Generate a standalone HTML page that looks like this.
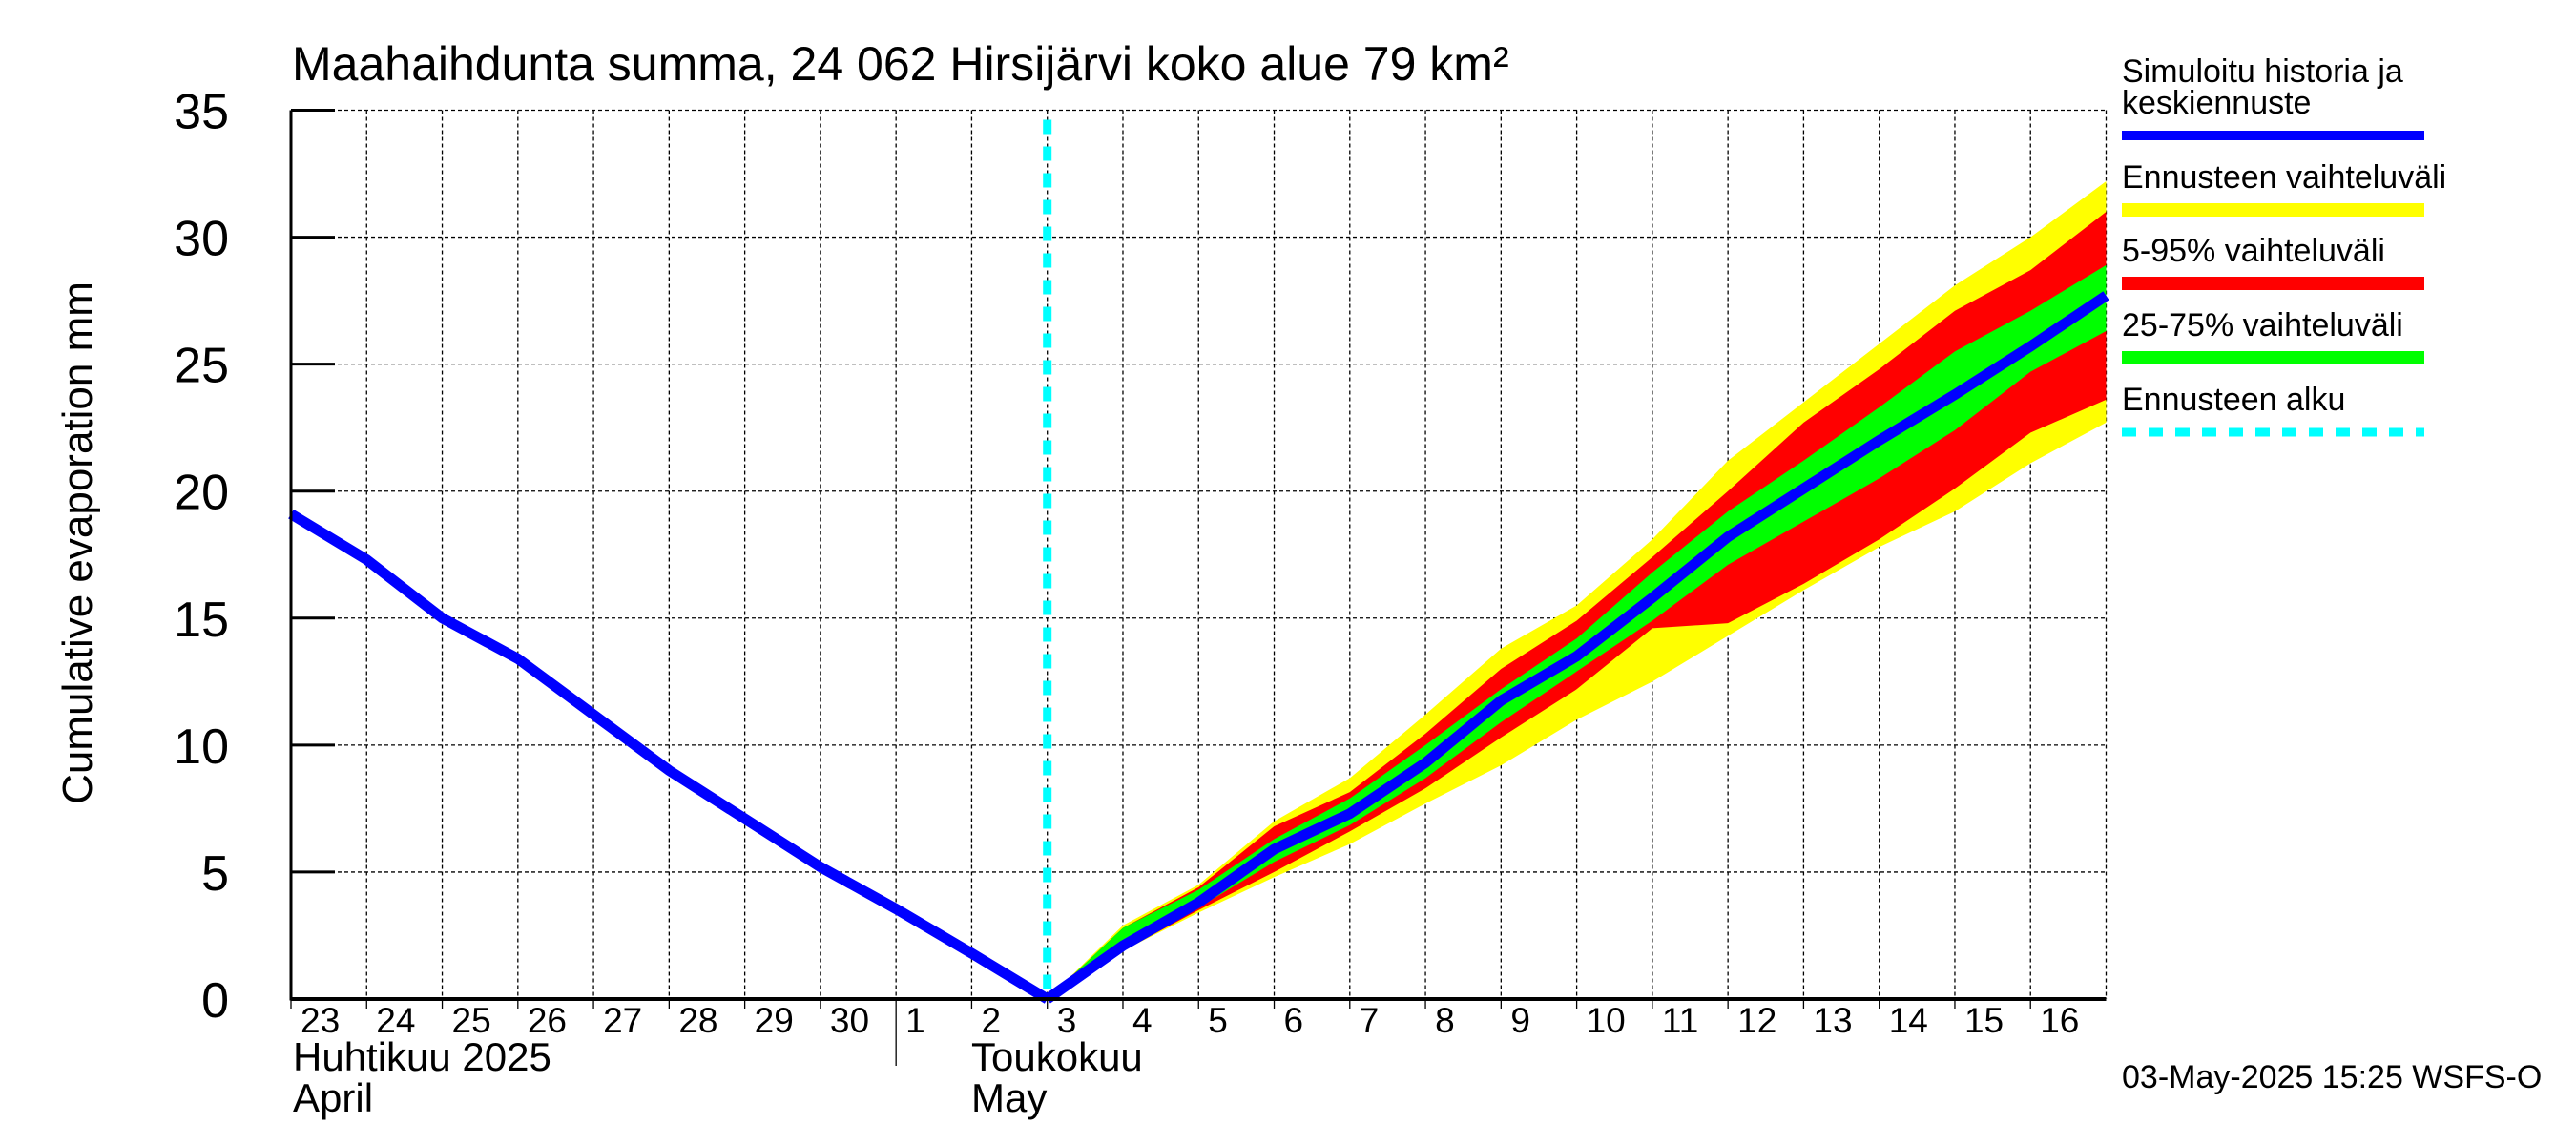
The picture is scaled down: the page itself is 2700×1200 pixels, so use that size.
<!DOCTYPE html>
<html><head><meta charset="utf-8">
<style>
html,body{margin:0;padding:0;background:#fff;}
svg{display:block;font-family:"Liberation Sans",sans-serif;}
</style></head>
<body>
<svg id="chart" xmlns="http://www.w3.org/2000/svg" width="2700" height="1200" viewBox="0 0 2700 1200">
<rect x="0" y="0" width="2700" height="1200" fill="#fff"/>
<text x="306" y="84" font-size="50">Maahaihdunta summa, 24 062 Hirsijärvi koko alue 79 km²</text>
<text transform="translate(96,569) rotate(-90)" text-anchor="middle" font-size="44">Cumulative evaporation   mm</text>
<g id="grid"></g>
<g id="bands"></g>
<g id="lines"></g>
<g id="axes"></g>
<text x="307" y="1122" font-size="42">Huhtikuu  2025</text>
<text x="307" y="1165" font-size="42">April</text>
<text x="1018" y="1122" font-size="42">Toukokuu</text>
<text x="1018" y="1165" font-size="42">May</text>
<g font-size="34">
<text x="2224" y="86">Simuloitu historia ja</text>
<text x="2224" y="119">keskiennuste</text>
<rect x="2224" y="137" width="317" height="10" fill="#0000ff"/>
<text x="2224" y="197">Ennusteen vaihteluväli</text>
<rect x="2224" y="213" width="317" height="14" fill="#ffff00"/>
<text x="2224" y="274">5-95% vaihteluväli</text>
<rect x="2224" y="290" width="317" height="14" fill="#ff0000"/>
<text x="2224" y="352">25-75% vaihteluväli</text>
<rect x="2224" y="368" width="317" height="14" fill="#00ff00"/>
<text x="2224" y="430">Ennusteen alku</text>
<line x1="2224" y1="453" x2="2541" y2="453" stroke="#00ffff" stroke-width="9" stroke-dasharray="15 13"/>
</g>
<text x="2224" y="1140" font-size="34">03-May-2025 15:25 WSFS-O</text>
</svg>
<script>
const dayLabels = ["23","24","25","26","27","28","29","30","1","2","3","4","5","6","7","8","9","10","11","12","13","14","15","16"];
const yTicks = [0,5,10,15,20,25,30,35];
const histDays = [0,1,2,3,4,5,6,7,8,9,10];
const histVals = [19.1,17.3,15.0,13.4,11.2,9.0,7.1,5.2,3.55,1.8,0];
const fcDays = [10,11,12,13,14,15,16,17,18,19,20,21,22,23,24];
const yelTop = [0,2.9,4.5,7.0,8.7,11.2,13.8,15.5,18.1,21.2,23.5,25.8,28.1,30.0,32.2];
const redTop = [0,2.8,4.4,6.8,8.15,10.45,13.0,14.9,17.4,20.0,22.7,24.8,27.1,28.7,31.0];
const grnTop = [0,2.8,4.3,6.3,7.9,10.0,12.2,14.2,16.8,19.2,21.2,23.3,25.5,27.1,28.9];
const median = [0,2.1,3.8,5.9,7.3,9.3,11.75,13.5,15.8,18.2,20.1,22.0,23.8,25.7,27.7];
const grnBot = [0,2.0,3.6,5.4,6.85,8.7,10.9,12.9,14.9,17.1,18.8,20.5,22.4,24.7,26.3];
const redBot = [0,1.9,3.5,5.0,6.6,8.3,10.3,12.2,14.6,14.8,16.35,18.1,20.1,22.3,23.6];
const yelBot = [0,1.9,3.4,4.8,6.1,7.7,9.2,11.0,12.5,14.3,16.1,17.8,19.2,21.1,22.7];
const forecastStartDay = 10;

const X0=305, X1=2207.5, Y0=1047, Y1=115.5, NDAYS=24, YMAX=35;
const NS="http://www.w3.org/2000/svg";
function xs(d){return X0+(X1-X0)*d/NDAYS;}
function ys(v){return Y0-(Y0-Y1)*v/YMAX;}
function mk(tag,attrs,parent){const e=document.createElementNS(NS,tag);for(const k in attrs)e.setAttribute(k,attrs[k]);parent.appendChild(e);return e;}
const grid=document.getElementById('grid'),bands=document.getElementById('bands'),lines=document.getElementById('lines'),axes=document.getElementById('axes');

for(let d=1; d<=NDAYS; d++){
  const l=mk('line',{x1:xs(d),y1:Y1,x2:xs(d),y2:Y0,stroke:'#000','stroke-width':1.3,'stroke-dasharray':'4 3'},grid);
  
  
}
yTicks.forEach(v=>{
  if(v===0) return;
  const l=mk('line',{x1:X0,y1:ys(v),x2:X1,y2:ys(v),stroke:'#000','stroke-width':1.3,'stroke-dasharray':'4 3'},grid);
  
  
});

function band(top,bot,color,name){
  let pts=fcDays.map((d,i)=>xs(d)+','+ys(top[i]));
  for(let i=fcDays.length-1;i>=0;i--) pts.push(xs(fcDays[i])+','+ys(bot[i]));
  const p=mk('polygon',{points:pts.join(' '),fill:color},bands);
  
  
}
band(yelTop,yelBot,'#ffff00','band-full-range');
band(redTop,redBot,'#ff0000','band-5-95');
band(grnTop,grnBot,'#00ff00','band-25-75');

const fs=mk('line',{x1:xs(forecastStartDay),y1:Y1+10,x2:xs(forecastStartDay),y2:Y0,stroke:'#00ffff','stroke-width':9,'stroke-dasharray':'15 13'},lines);



const hp=mk('polyline',{points:histDays.map((d,i)=>xs(d)+','+ys(histVals[i])).join(' '),fill:'none',stroke:'#0000ff','stroke-width':11,'stroke-linejoin':'miter'},lines);


const mp=mk('polyline',{points:fcDays.map((d,i)=>xs(d)+','+ys(median[i])).join(' '),fill:'none',stroke:'#0000ff','stroke-width':11},lines);



const la=mk('line',{x1:X0,y1:Y1,x2:X0,y2:Y0+1.5,stroke:'#000','stroke-width':3},axes);


const ba=mk('line',{x1:X0,y1:Y0,x2:X1,y2:Y0,stroke:'#000','stroke-width':4},axes);


yTicks.forEach(v=>{
  const t=mk('line',{x1:X0,y1:ys(v),x2:X0+46,y2:ys(v),stroke:'#000','stroke-width':3},axes);
  
  
  const tx=mk('text',{x:X0-65,y:ys(v)+19,'font-size':52,'text-anchor':'end'},axes);
  tx.textContent=String(v);
  
  
});
dayLabels.forEach((lab,i)=>{
  const long=(i===8);
  const t=mk('line',{x1:xs(i),y1:Y0,x2:xs(i),y2:long?1117:1057,stroke:'#000','stroke-width':1.3},axes);
  
  
  const tx=mk('text',{x:xs(i)+10,y:1082,'font-size':37},axes);
  tx.textContent=lab;
  
  
});
</script>
</body></html>
